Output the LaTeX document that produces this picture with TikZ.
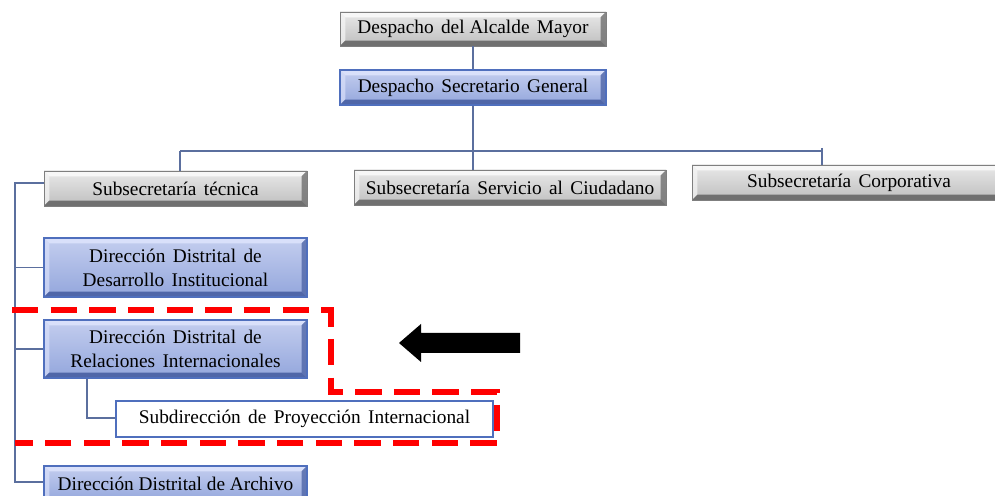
\documentclass[tikz,border=0pt]{standalone}
\usepackage{fontspec}
\setmainfont{Liberation Serif}
\usetikzlibrary{calc}
\definecolor{conn}{HTML}{5B6F9E}
\definecolor{gtop}{HTML}{E9E9E9}
\definecolor{gbot}{HTML}{BEBEBE}
\definecolor{glt}{HTML}{F7F7F7}
\definecolor{gdk}{HTML}{707070}
\definecolor{gbd}{HTML}{7F7F7F}
\definecolor{btop}{HTML}{C4CEEF}
\definecolor{bbot}{HTML}{93A6DC}
\definecolor{blt}{HTML}{D9E0FA}
\definecolor{bdk}{HTML}{4F66A8}
\definecolor{bbd}{HTML}{4F6FBD}
\newskip\widespace
\widespace=0.42em plus 0.1em
\newcommand\wsp{\spaceskip=\widespace}
\newcommand\bevelpic[3]{%
 \def\bw{#3}%
 \fill[#1] (path picture bounding box.north west) -- (path picture bounding box.north east) -- ([xshift=-\bw,yshift=-\bw]path picture bounding box.north east) -- ([xshift=\bw,yshift=-\bw]path picture bounding box.north west) -- cycle;
 \fill[#1,opacity=0.7] (path picture bounding box.north west) -- (path picture bounding box.south west) -- ([xshift=\bw,yshift=\bw]path picture bounding box.south west) -- ([xshift=\bw,yshift=-\bw]path picture bounding box.north west) -- cycle;
 \fill[#2,opacity=0.8] (path picture bounding box.north east) -- (path picture bounding box.south east) -- ([xshift=-\bw,yshift=\bw]path picture bounding box.south east) -- ([xshift=-\bw,yshift=-\bw]path picture bounding box.north east) -- cycle;
 \fill[#2] (path picture bounding box.south west) -- (path picture bounding box.south east) -- ([xshift=-\bw,yshift=\bw]path picture bounding box.south east) -- ([xshift=\bw,yshift=\bw]path picture bounding box.south west) -- cycle;
}
\tikzset{
 box/.style={inner sep=0pt, align=center, font=\fontsize{11}{13.6}\selectfont, text=black},
 graybox/.style={box, draw=gbd, line width=0.5pt, top color=gtop, bottom color=gbot,
   path picture={\bevelpic{glt}{gdk}{3pt}}},
 bluebox/.style={box, draw=bbd, line width=0.8pt, top color=btop, bottom color=bbot,
   path picture={\bevelpic{blt}{bdk}{3pt}}},
 whitebox/.style={box, draw=bbd, line width=0.8pt, fill=white},
 link/.style={draw=conn, line width=0.6pt},
 hilite/.style={draw=red, line width=2.9pt, dash pattern=on 15pt off 7pt},
}
\begin{document}
\begin{tikzpicture}[x=0.02cm, y=-0.02cm]
\useasboundingbox (0,0) rectangle (995,496);
\clip (0,0) rectangle (995,496);
\def\u{0.02cm}
\node[graybox, minimum width=266*\u, minimum height=34*\u] (alc) at (473,29) {\wsp Despacho del\hspace{0.25em}Alcalde Mayor};
\node[bluebox, minimum width=266*\u, minimum height=35*\u] (sg) at (473,87.5) {\wsp Despacho Secretario General};
\node[graybox, minimum width=263*\u, minimum height=35*\u] (tec) at (175.5,188.5) {\wsp Subsecretaría técnica};
\node[graybox, minimum width=312*\u, minimum height=35*\u] (serv) at (510,187.5) {\wsp Subsecretaría Servicio al Ciudadano};
\node[graybox, minimum width=314*\u, minimum height=35*\u] (corp) at (849,182.5) {\wsp Subsecretaría Corporativa};
\node[bluebox, minimum width=263*\u, minimum height=59*\u] (dev) at (175.5,267.5) {\wsp Dirección Distrital de\\\wsp Desarrollo Institucional};
\node[bluebox, minimum width=263*\u, minimum height=58*\u] (rel) at (175.5,349) {\wsp Dirección Distrital de\\\wsp Relaciones Internacionales};
\node[whitebox, minimum width=377*\u, minimum height=36*\u] (sub) at (304.5,419) {\wsp Subdirección de Proyección Internacional};
\node[bluebox, minimum width=263*\u, minimum height=36*\u] (arc) at (175.5,484) {Dirección Distrital de Archivo};

\coordinate (busL) at (180,151);
\coordinate (busR) at (822,151);
\coordinate (busRt) at (822,148);
\coordinate (spT) at (15,183);
\coordinate (spB) at (15,482);
\coordinate (subc) at (87,418);

\draw[link] (alc.south) -- (sg.north);
\draw[link] (sg.south) -- (sg.south |- serv.north);
\draw[link] (busL) -- (busR);
\draw[link] (busL) -- (busL |- tec.north);
\draw[link] (busRt) -- (busRt |- corp.north);
\draw[link] (spT -| tec.west) -- (spT) -- (spB) -- (spB -| arc.west);
\draw[link] (spT |- dev.west) -- (dev.west);
\draw[link] (spT |- rel.west) -- (rel.west);
\draw[link] (subc |- rel.south) -- (subc) -- (subc -| sub.west);

\draw[hilite] (12,310) -- (331,310) -- (331,392) -- (497,392) -- (497,443) -- (15,443);
\fill[black] (399,343) -- (421,324) -- (421,333) -- (520,333) -- (520,353) -- (421,353) -- (421,362) -- cycle;
\end{tikzpicture}
\end{document}
